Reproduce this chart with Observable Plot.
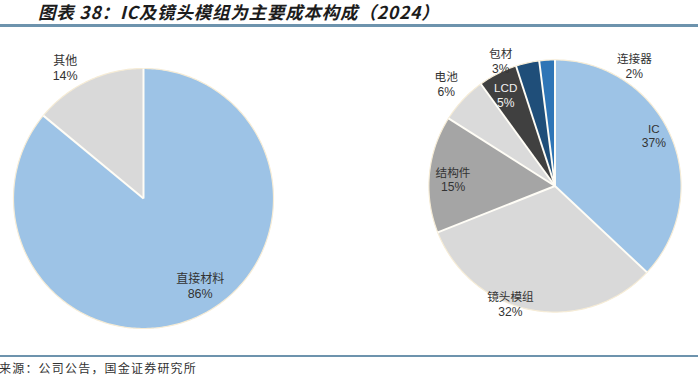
<!DOCTYPE html>
<html>
<head>
<meta charset="utf-8">
<script src="https://cdn.jsdelivr.net/npm/d3@7"></script>
<script src="https://cdn.jsdelivr.net/npm/@observablehq/plot@0.6"></script>
<style>
  html, body { margin: 0; padding: 0; background: #fff; }
  #page { position: relative; width: 700px; height: 382px; overflow: hidden; }
  #title { position: absolute; left: 38px; top: 2px; font-family: "Noto Sans CJK SC", sans-serif; font-weight: 700; font-style: italic; font-size: 17.5px; letter-spacing: 0.8px; color: #1c1c1c; white-space: nowrap; line-height: 20px; padding-right: 6px; }
  .rule { position: absolute; left: 0; width: 698px; background: #6d93ad; }
  #source { position: absolute; left: -1px; top: 360px; font-family: "Noto Sans CJK SC", sans-serif; font-size: 12px; letter-spacing: 1.2px; color: #333; white-space: nowrap; line-height: 16px; }
  .pie { position: absolute; }
</style>
</head>
<body>
<div id="page">
  <div id="title">图表 38：IC及镜头模组为主要成本构成（2024）</div>
  <div class="rule" style="top:24px;height:3px"></div>
  <div id="leftPie" class="pie"></div>
  <div id="rightPie" class="pie"></div>
  <div class="rule" style="top:355px;height:2px"></div>
  <div id="source">来源：公司公告，国金证券研究所</div>
</div>
<script>
// ---- data ----
const leftCategories = ["直接材料", "其他"];
const leftValues = [86, 14];
const rightCategories = ["IC", "镜头模组", "结构件", "电池", "LCD", "包材", "连接器"];
const rightValues = [37, 32, 15, 6, 5, 3, 2];

// ---- styles ----
const leftColors = ["#9dc3e6", "#d9d9d9"];
const rightColors = ["#9dc3e6", "#d9d9d9", "#a5a5a5", "#dadada", "#404040", "#1f4e79", "#2e75b6"];
// label layout: [radius fraction, angle in degrees clockwise from top], label colour
const leftLabelLayout = [[0.80, 147], [1.17, 329]];
const leftLabelColors = ["#333", "#333"];
const rightLabelLayout = [[0.88, 63], [1.0, 200.7], [0.81, 273.5], [1.18, 313], [0.82, 331.5], [1.08, 336.5], [1.14, 33.5]];
const rightLabelColors = ["#333", "#333", "#333", "#333", "#f2f2f2", "#333", "#333"];

const R = 130;      // pie radius in px
const SIZE = 300;   // svg size in px
const FONT = "'Liberation Sans', 'Noto Sans CJK SC', sans-serif";

function makePie(cats, vals, colors, layout, labelColors) {
  const data = cats.map((c, i) => ({cat: c, v: vals[i]}));
  const total = d3.sum(vals);
  const arcs = d3.pie().sort(null).value(d => d.v)(data);
  const pts = [];
  for (const a of arcs) {
    pts.push({cat: a.data.cat, x: 0, y: 0});
    const n = Math.max(4, Math.ceil((a.endAngle - a.startAngle) / 0.01));
    for (let k = 0; k <= n; k++) {
      const t = a.startAngle + (a.endAngle - a.startAngle) * k / n;
      pts.push({cat: a.data.cat, x: Math.sin(t), y: Math.cos(t)});
    }
    pts.push({cat: a.data.cat, x: 0, y: 0});
  }
  const outline = d3.range(0, 361).map(d => ({x: Math.sin(d * Math.PI / 180), y: Math.cos(d * Math.PI / 180)}));
  const bounds = arcs.map(a => ({x2: Math.sin(a.startAngle), y2: Math.cos(a.startAngle)}));
  const labels = data.map((d, i) => {
    const [lr, la] = layout[i];
    const t = la * Math.PI / 180;
    return {name: d.cat, pct: Math.round(d.v / total * 100) + "%", x: lr * Math.sin(t), y: lr * Math.cos(t), color: labelColors[i]};
  });
  const e = SIZE / 2 / R;
  return Plot.plot({
    width: SIZE, height: SIZE,
    margin: 0,
    x: {domain: [-e, e], axis: null},
    y: {domain: [-e, e], axis: null},
    color: {domain: cats, range: colors},
    marks: [
      Plot.line(pts, {x: "x", y: "y", z: "cat", fill: "cat", stroke: "none", curve: "linear"}),
      Plot.line(outline, {x: "x", y: "y", stroke: "#f6ecd6", strokeWidth: 1.2}),
      Plot.link(bounds, {x1: 0, y1: 0, x2: "x2", y2: "y2", stroke: "#fffdf6", strokeWidth: 2}),
      Plot.text(labels, {x: "x", y: "y", text: "name", dy: -7, fill: "color", fontSize: 12, fontFamily: FONT}),
      Plot.text(labels, {x: "x", y: "y", text: "pct", dy: 8, fill: "color", fontSize: 12.5, fontFamily: FONT})
    ]
  });
}

const left = document.getElementById("leftPie");
left.style.left = (143 - SIZE / 2) + "px";
left.style.top = (198 - SIZE / 2) + "px";
left.appendChild(makePie(leftCategories, leftValues, leftColors, leftLabelLayout, leftLabelColors));

const right = document.getElementById("rightPie");
right.style.left = (559 - SIZE / 2) + "px";
right.style.top = (190 - SIZE / 2) + "px";
right.appendChild(makePie(rightCategories, rightValues, rightColors, rightLabelLayout, rightLabelColors));
</script>
</body>
</html>
